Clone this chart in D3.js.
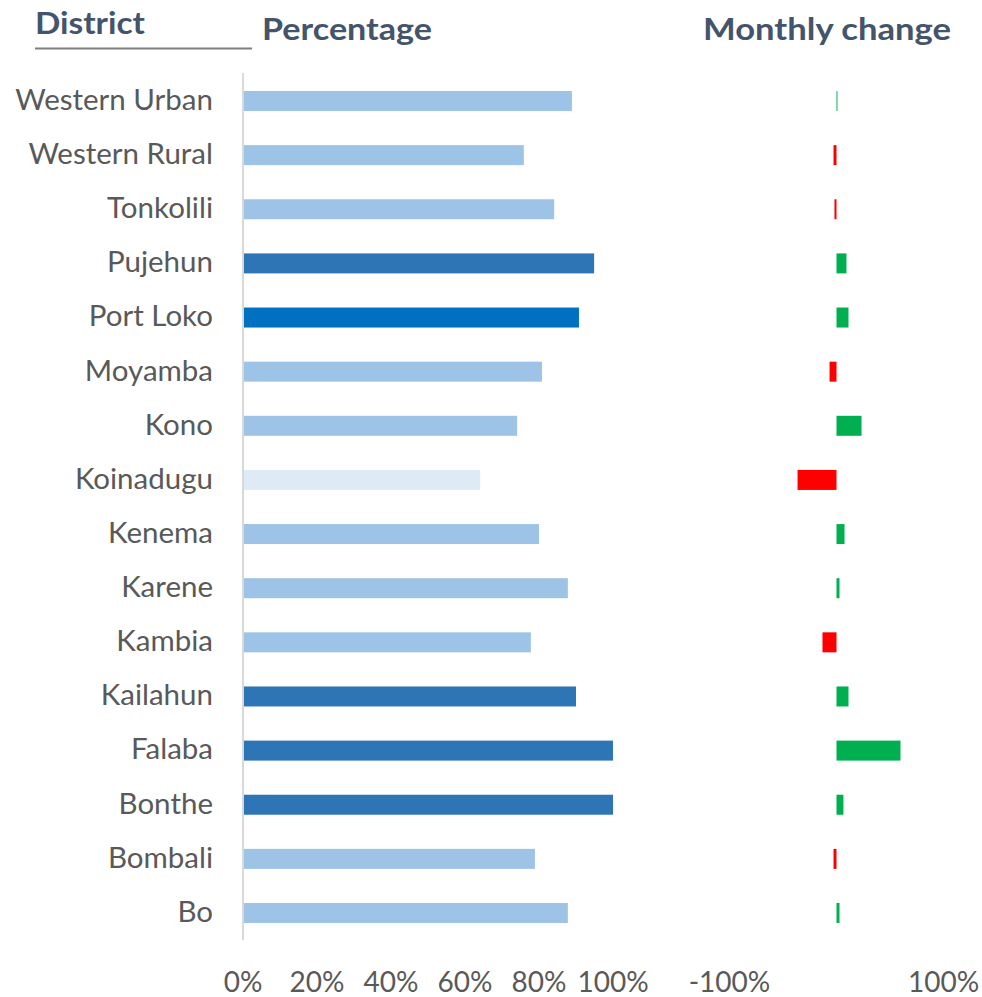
<!DOCTYPE html>
<html lang="en">
<head>
  <meta charset="UTF-8">
  <title>District percentage and monthly change</title>
  <script src="https://d3js.org/d3.v7.min.js"></script>
  <style>
    body { margin: 0; background: #fff; }
    text { font-family: Lato, "Open Sans", sans-serif; }
  </style>
</head>
<body>
  <div id="chart"></div>
  <script>
    // data
    const districts = ["Western Urban", "Western Rural", "Tonkolili", "Pujehun", "Port Loko", "Moyamba",
      "Kono", "Koinadugu", "Kenema", "Karene", "Kambia", "Kailahun", "Falaba", "Bonthe", "Bombali", "Bo"];
    const percentage = [88.9, 75.9, 84.1, 94.9, 90.8, 80.8, 74.1, 64.1, 80.0, 87.8, 77.8, 90.0, 100, 100, 78.9, 87.8];
    const monthlyChange = [0.9, -2.8, -1.9, 9.3, 11.2, -6.5, 23.4, -36.4, 7.5, 2.8, -13.1, 11.2, 59.8, 6.5, -2.8, 2.8];
    const pctTicks = [0, 20, 40, 60, 80, 100];
    const changeTicks = [-100, 100];
    const highlighted = ["Port Loko"];

    const width = 982, height = 997;

    const svg = d3.select("#chart").append("svg")
      .attr("width", width)
      .attr("height", height);

    const x = d3.scaleLinear().domain([0, 100]).range([243, 613]);
    const xc = d3.scaleLinear().domain([-100, 100]).range([729.5, 943.5]);
    const y = d3.scalePoint().domain(districts).range([101, 913]);
    const barH = 20;

    // shade by value band, one district picked out
    function pctColour(d, v) {
      if (highlighted.includes(d)) return "#0070C0";
      if (v >= 90) return "#2E75B6";
      if (v < 70) return "#DEEBF7";
      return "#9DC3E6";
    }

    const rows = districts.map((d, i) => ({ name: d, pct: percentage[i], chg: monthlyChange[i] }));

    // titles
    const titleCol = "#44546A";
    svg.append("text").attr("x", 35).attr("y", 34).text("District")
      .attr("font-size", 30).attr("font-weight", 700).attr("fill", titleCol)
      .attr("textLength", 110).attr("lengthAdjust", "spacingAndGlyphs");
    svg.append("line").attr("x1", 35).attr("x2", 252).attr("y1", 48.5).attr("y2", 48.5)
      .attr("stroke", "#7f7f7f").attr("stroke-width", 2);
    svg.append("text").attr("x", 262).attr("y", 40).text("Percentage")
      .attr("font-size", 30).attr("font-weight", 700).attr("fill", titleCol)
      .attr("textLength", 170).attr("lengthAdjust", "spacingAndGlyphs");
    svg.append("text").attr("x", 703).attr("y", 40).text("Monthly change")
      .attr("font-size", 30).attr("font-weight", 700).attr("fill", titleCol)
      .attr("textLength", 248).attr("lengthAdjust", "spacingAndGlyphs");

    // category labels
    svg.selectAll(".cat")
      .data(rows)
      .enter()
      .append("text")
      .attr("class", "cat")
      .attr("x", 213)
      .attr("y", d => y(d.name))
      .attr("dy", "0.3em")
      .attr("text-anchor", "end")
      .attr("font-size", 29.5)
      .attr("fill", "#595959")
      .text(d => d.name);

    // percentage bars
    svg.selectAll(".pct")
      .data(rows)
      .enter()
      .append("rect")
      .attr("class", "pct")
      .attr("x", x(0))
      .attr("y", d => y(d.name) - barH / 2)
      .attr("width", d => x(d.pct) - x(0))
      .attr("height", barH)
      .attr("fill", d => pctColour(d.name, d.pct));

    svg.append("line")
      .attr("x1", x(0)).attr("x2", x(0))
      .attr("y1", 73).attr("y2", 940)
      .attr("stroke", "#d9d9d9").attr("stroke-width", 2);

    // monthly change bars
    svg.selectAll(".chg")
      .data(rows)
      .enter()
      .append("rect")
      .attr("class", "chg")
      .attr("x", d => xc(Math.min(0, d.chg)))
      .attr("y", d => y(d.name) - barH / 2)
      .attr("width", d => Math.abs(xc(d.chg) - xc(0)))
      .attr("height", barH)
      .attr("fill", d => d.chg < 0 ? "#FF0000" : "#00B050");

    // tick labels
    svg.selectAll(".ptick")
      .data(pctTicks)
      .enter()
      .append("text")
      .attr("class", "ptick")
      .attr("x", d => x(d))
      .attr("y", 982)
      .attr("dy", "0.36em")
      .attr("text-anchor", "middle")
      .attr("font-size", 28)
      .attr("fill", "#595959")
      .text(d => d + "%");

    svg.selectAll(".ctick")
      .data(changeTicks)
      .enter()
      .append("text")
      .attr("class", "ctick")
      .attr("x", d => xc(d))
      .attr("y", 982)
      .attr("dy", "0.36em")
      .attr("text-anchor", "middle")
      .attr("font-size", 28)
      .attr("fill", "#595959")
      .text(d => d + "%");
  </script>
</body>
</html>
